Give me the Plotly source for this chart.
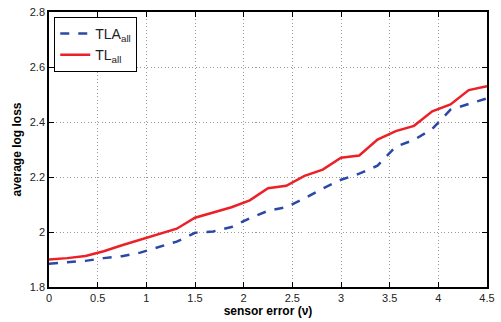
import plotly.graph_objects as go

sensor_error = [i * 0.1875 for i in range(25)]
tla_all = [1.885, 1.889, 1.895, 1.905, 1.912, 1.925, 1.945, 1.965, 1.997, 2.002,
           2.018, 2.050, 2.077, 2.090, 2.122, 2.158, 2.190, 2.212, 2.241, 2.310,
           2.335, 2.375, 2.445, 2.465, 2.486]
tl_all = [1.900, 1.905, 1.913, 1.930, 1.952, 1.972, 1.990, 2.012, 2.052, 2.070,
          2.090, 2.115, 2.159, 2.168, 2.204, 2.227, 2.270, 2.278, 2.336, 2.367,
          2.386, 2.439, 2.464, 2.516, 2.530]
x_ticks = [0, 0.5, 1, 1.5, 2, 2.5, 3, 3.5, 4, 4.5]
x_tick_labels = ["0", "0.5", "1", "1.5", "2", "2.5", "3", "3.5", "4", "4.5"]
y_ticks = [1.8, 2.0, 2.2, 2.4, 2.6, 2.8]
y_tick_labels = ["1.8", "2", "2.2", "2.4", "2.6", "2.8"]

fig = go.Figure()
fig.add_trace(go.Scatter(x=sensor_error, y=tla_all, mode="lines",
                         name="TLA<sub>all</sub>",
                         line=dict(color="#2b48a6", width=2.5, dash="dash")))
fig.add_trace(go.Scatter(x=sensor_error, y=tl_all, mode="lines",
                         name="TL<sub>all</sub>",
                         line=dict(color="#ec2027", width=2.5)))

axis_common = dict(showline=True, linecolor="black", linewidth=1.5, mirror="ticks",
                   ticks="inside", ticklen=5, tickcolor="black",
                   showgrid=True, gridcolor="#9a9a9a", griddash="1px,2.5px", gridwidth=1,
                   zeroline=False, tickfont=dict(family="Liberation Sans, Arial", size=11, color="#222"))

fig.update_layout(
    width=501, height=322,
    margin=dict(l=49, r=13, t=6, b=35),
    paper_bgcolor="white", plot_bgcolor="white",
    font=dict(family="Liberation Sans, Arial", color="black"),
    showlegend=True,
    legend=dict(x=0.012, y=0.982, xanchor="left", yanchor="top",
                bgcolor="white", bordercolor="black", borderwidth=1,
                font=dict(size=14, color="#222"), tracegroupgap=0),
    xaxis=dict(range=[0, 4.5], tickvals=x_ticks, ticktext=x_tick_labels,
               title=dict(text="<b>sensor error (ν)</b>", font=dict(size=12), standoff=2),
               **axis_common),
    yaxis=dict(range=[1.8, 2.8], tickvals=y_ticks, ticktext=y_tick_labels,
               title=dict(text="<b>average log loss</b>", font=dict(size=12), standoff=6),
               **axis_common),
)

fig.write_html("out.html", config={"displayModeBar": False},
               post_script="document.body.style.margin='0';document.body.style.overflow='hidden';")
